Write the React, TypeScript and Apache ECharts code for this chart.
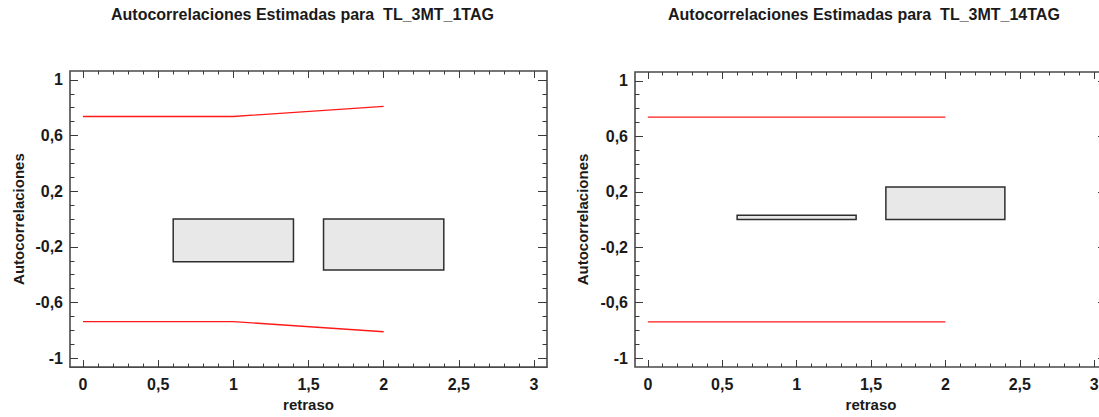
import React, { useEffect, useRef } from "react";
import * as echarts from "echarts";

// ---- data ----
const titles = [
  "Autocorrelaciones Estimadas para  TL_3MT_1TAG",
  "Autocorrelaciones Estimadas para  TL_3MT_14TAG",
];
const lags = [1, 2];
const acfLeft = [-0.307, -0.366];
const acfRight = [0.03, 0.235];
const limitLags = [0, 1, 2];
const upperLeft = [0.737, 0.737, 0.81];
const lowerLeft = [-0.737, -0.737, -0.81];
const upperRight = [0.738, 0.738, 0.738];
const lowerRight = [-0.738, -0.738, -0.738];
const xMajor = [0, 0.5, 1, 1.5, 2, 2.5, 3];
const xMinor = [
  0.1, 0.2, 0.3, 0.4, 0.6, 0.7, 0.8, 0.9, 1.1, 1.2, 1.3, 1.4, 1.6, 1.7, 1.8, 1.9,
  2.1, 2.2, 2.3, 2.4, 2.6, 2.7, 2.8, 2.9,
];
const yMajor = [-1, -0.6, -0.2, 0.2, 0.6, 1];
const yMinor = [
  -0.9, -0.8, -0.7, -0.5, -0.4, -0.3, -0.1, 0, 0.1, 0.3, 0.4, 0.5, 0.7, 0.8, 0.9,
];
const xName = "retraso";
const yName = "Autocorrelaciones";

// ---- style ----
const FONT = "'Liberation Sans', Arial, sans-serif";
const TXT = "#1a1a1a";
const AX = "#3a3a3a";
const X_MIN = -0.0865;
const X_MAX = 3.0865;
const Y_MIN = -1.064;
const Y_MAX = 1.064;
const HALF = 0.4;

const fmt = (v: number) => String(Math.round(v * 10) / 10).replace(".", ",");

const grids = [
  { left: 70, top: 71, width: 477, height: 299, nameGapY: 44, titleLeft: 111 },
  { left: 635, top: 72, width: 472, height: 295, nameGapY: 45, titleLeft: 668 },
];

const noLine = { show: false, onZero: false };

function makeX(gi: number) {
  const base = {
    gridIndex: gi,
    type: "value",
    min: X_MIN,
    max: X_MAX,
    axisLine: noLine,
    splitLine: { show: false },
  };
  return [
    {
      ...base,
      position: "bottom",
      name: xName,
      nameLocation: "middle",
      nameGap: 28,
      nameTextStyle: { fontFamily: FONT, fontWeight: "bold", fontSize: 15, color: TXT },
      axisTick: { show: true, inside: true, length: 7, customValues: xMajor, lineStyle: { color: AX, width: 1 } },
      axisLabel: {
        show: true,
        customValues: xMajor,
        margin: 9,
        formatter: fmt,
        fontFamily: FONT,
        fontWeight: "bold",
        fontSize: 16,
        color: TXT,
      },
    },
    {
      ...base,
      position: "bottom",
      axisTick: { show: true, inside: true, length: 3.5, customValues: xMinor, lineStyle: { color: AX, width: 1 } },
      axisLabel: { show: false },
    },
    {
      ...base,
      position: "top",
      axisTick: { show: true, inside: true, length: 7, customValues: xMajor, lineStyle: { color: AX, width: 1 } },
      axisLabel: { show: false },
    },
    {
      ...base,
      position: "top",
      axisTick: { show: true, inside: true, length: 3.5, customValues: xMinor, lineStyle: { color: AX, width: 1 } },
      axisLabel: { show: false },
    },
  ];
}

function makeY(gi: number, gap: number) {
  const base = {
    gridIndex: gi,
    type: "value",
    min: Y_MIN,
    max: Y_MAX,
    axisLine: noLine,
    splitLine: { show: false },
  };
  return [
    {
      ...base,
      position: "left",
      name: yName,
      nameLocation: "middle",
      nameGap: gap,
      nameRotate: 90,
      nameTextStyle: { fontFamily: FONT, fontWeight: "bold", fontSize: 15, color: TXT },
      axisTick: { show: true, inside: true, length: 8, customValues: yMajor, lineStyle: { color: AX, width: 1 } },
      axisLabel: {
        show: true,
        customValues: yMajor,
        margin: 7,
        formatter: fmt,
        fontFamily: FONT,
        fontWeight: "bold",
        fontSize: 16,
        color: TXT,
      },
    },
    {
      ...base,
      position: "left",
      axisTick: { show: true, inside: true, length: 4.5, customValues: yMinor, lineStyle: { color: AX, width: 1 } },
      axisLabel: { show: false },
    },
    {
      ...base,
      position: "right",
      axisTick: { show: true, inside: true, length: 9, customValues: yMajor, lineStyle: { color: AX, width: 1 } },
      axisLabel: { show: false },
    },
    {
      ...base,
      position: "right",
      axisTick: { show: true, inside: true, length: 4.5, customValues: yMinor, lineStyle: { color: AX, width: 1 } },
      axisLabel: { show: false },
    },
  ];
}

function boxSeries(axisIdx: number, values: number[]) {
  return {
    type: "custom",
    xAxisIndex: axisIdx,
    yAxisIndex: axisIdx,
    data: lags.map((l, i) => [l, values[i]]),
    renderItem: (_params: any, api: any) => {
      const lag = api.value(0);
      const v = api.value(1);
      const p1 = api.coord([lag - HALF, Math.max(0, v)]);
      const p2 = api.coord([lag + HALF, Math.min(0, v)]);
      return {
        type: "rect",
        shape: { x: p1[0], y: p1[1], width: p2[0] - p1[0], height: p2[1] - p1[1] },
        style: { fill: "#e8e8e8", stroke: "#2e2e2e", lineWidth: 1.5 },
      };
    },
  };
}

function limitSeries(axisIdx: number, values: number[]) {
  return {
    type: "line",
    xAxisIndex: axisIdx,
    yAxisIndex: axisIdx,
    data: limitLags.map((l, i) => [l, values[i]]),
    symbol: "none",
    lineStyle: { color: "#ff1a1a", width: 1.3 },
  };
}

export default function App() {
  const ref = useRef<HTMLDivElement>(null);
  useEffect(() => {
    if (!ref.current) return;
    const chart = echarts.init(ref.current, undefined, { renderer: "svg" });
    chart.setOption({
      animation: false,
      backgroundColor: "#ffffff",
      title: titles.map((t, i) => ({
        text: t,
        left: grids[i].titleLeft,
        top: 6,
        padding: 0,
        textStyle: { fontFamily: FONT, fontWeight: "bold", fontSize: 16, color: TXT },
      })),
      grid: grids.map((g) => ({
        left: g.left,
        top: g.top,
        width: g.width,
        height: g.height,
        show: true,
        borderColor: "#4a4a4a",
        borderWidth: 1.6,
        backgroundColor: "#ffffff",
        containLabel: false,
      })),
      xAxis: [...makeX(0), ...makeX(1)],
      yAxis: [...makeY(0, grids[0].nameGapY), ...makeY(1, grids[1].nameGapY)],
      series: [
        limitSeries(0, upperLeft),
        limitSeries(0, lowerLeft),
        boxSeries(0, acfLeft),
        limitSeries(4, upperRight),
        limitSeries(4, lowerRight),
        boxSeries(4, acfRight),
      ],
    });
    return () => chart.dispose();
  }, []);
  return (
    <div style={{ position: "fixed", left: 0, top: 0, width: 1099, height: 417, overflow: "hidden" }}>
      <div ref={ref} style={{ width: 1130, height: 417 }} />
    </div>
  );
}
